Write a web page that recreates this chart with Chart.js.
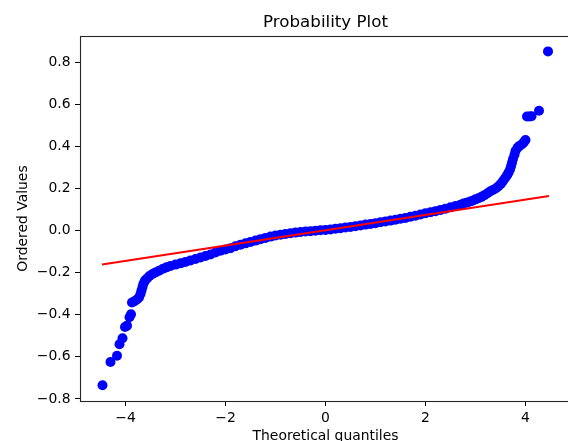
<!DOCTYPE html>
<html>
<head>
<meta charset="utf-8">
<script src="https://cdn.jsdelivr.net/npm/chart.js@4.4.1/dist/chart.umd.min.js"></script>
<style>
  html, body { margin: 0; padding: 0; background: #fff; overflow: hidden; }
  #wrap { width: 580px; height: 460px; }
</style>
</head>
<body>
<div id="wrap"><canvas id="c" width="580" height="460"></canvas></div>
<script>
// Theoretical quantiles (x) and ordered values (y)
const qqX = [
  -4.46, -4.30, -4.17, -4.12, -4.06, -4.01, -3.97, -3.92, -3.89, -3.87, -3.82, -3.77, -3.73, -3.70,
  -3.68, -3.66, -3.64, -3.61, -3.57, -3.52, -3.46, -3.40, -3.33, -3.25, -3.18, -3.10, -3.00,
  -2.9, -2.8, -2.7, -2.6, -2.5, -2.4, -2.3, -2.2, -2.1, -2.0, -1.9, -1.8, -1.7, -1.6, -1.5, -1.4,
  -1.3, -1.2, -1.1, -1.0, -0.9, -0.8, -0.7, -0.6, -0.5, -0.4, -0.3, -0.2, -0.1, 0.0, 0.1, 0.2,
  0.3, 0.4, 0.5, 0.6, 0.7, 0.8, 0.9, 1.0, 1.1, 1.2, 1.3, 1.4, 1.5, 1.6, 1.7, 1.8, 1.9, 2.0,
  2.1, 2.2, 2.3, 2.4, 2.5, 2.6, 2.7,
  2.76, 2.82, 2.88, 2.94, 3.00, 3.06, 3.12, 3.18, 3.24, 3.29, 3.35, 3.41, 3.46, 3.51, 3.55,
  3.59, 3.63, 3.66, 3.69, 3.71, 3.73, 3.75, 3.78, 3.80, 3.84, 3.88, 3.93, 3.97, 4.00,
  4.03, 4.08, 4.12, 4.27, 4.45
];
const qqY = [
  -0.735, -0.625, -0.595, -0.540, -0.512, -0.458, -0.452, -0.412, -0.398, -0.342, -0.336, -0.328, -0.318, -0.302,
  -0.285, -0.268, -0.252, -0.238, -0.228, -0.216, -0.207, -0.199, -0.191, -0.182, -0.175, -0.168, -0.162,
  -0.156, -0.149, -0.142, -0.135, -0.128, -0.121, -0.114, -0.104, -0.096, -0.090, -0.084, -0.075, -0.068, -0.061, -0.054, -0.048,
  -0.041, -0.035, -0.029, -0.024, -0.020, -0.016, -0.013, -0.010, -0.007, -0.005, -0.003, -0.001, 0.001, 0.003, 0.005, 0.008,
  0.011, 0.014, 0.017, 0.020, 0.024, 0.028, 0.031, 0.035, 0.039, 0.043, 0.047, 0.051, 0.056, 0.060, 0.065, 0.070, 0.076, 0.082,
  0.087, 0.092, 0.098, 0.104, 0.110, 0.116, 0.123,
  0.128, 0.132, 0.137, 0.142, 0.148, 0.153, 0.160, 0.168, 0.177, 0.185, 0.193, 0.201, 0.210, 0.222, 0.235,
  0.248, 0.262, 0.275, 0.290, 0.305, 0.322, 0.340, 0.360, 0.378, 0.393, 0.402, 0.410, 0.420, 0.430,
  0.542, 0.542, 0.543, 0.569, 0.851
];
// Least-squares fit line end points
const fitX = [-4.47, 4.47];
const fitY = [-0.161, 0.164];
// Tick labels
const xTicks = [-4, -2, 0, 2, 4];
const yTicks = [-0.8, -0.6, -0.4, -0.2, 0.0, 0.2, 0.4, 0.6, 0.8];

const FONT = "'DejaVu Sans', sans-serif";
const minus = s => s.replace('-', '\u2212');

const frame = {
  id: 'frame',
  afterDatasetsDraw(chart) {
    const a = chart.chartArea, ctx = chart.ctx;
    ctx.save();
    ctx.strokeStyle = '#262626';
    ctx.lineWidth = 1.1;
    ctx.strokeRect(Math.round(a.left) + 0.5, Math.round(a.top) + 0.5,
                   Math.round(a.right - a.left), Math.round(a.bottom - a.top));
    ctx.restore();
  }
};

new Chart(document.getElementById('c'), {
  type: 'scatter',
  data: {
    datasets: [
      {
        label: 'fit',
        type: 'line',
        data: fitX.map((x, i) => ({ x, y: fitY[i] })),
        borderColor: '#ff0000',
        borderWidth: 2,
        pointRadius: 0,
        fill: false,
        order: 0
      },
      {
        label: 'data',
        data: qqX.map((x, i) => ({ x, y: qqY[i] })),
        backgroundColor: '#0000ff',
        borderColor: '#0000ff',
        borderWidth: 0,
        pointRadius: 5,
        order: 1
      }
    ]
  },
  options: {
    responsive: false,
    animation: false,
    events: [],
    layout: { padding: { left: 0, right: 9, top: 0, bottom: 0 } },
    plugins: {
      legend: { display: false },
      tooltip: { enabled: false },
      title: {
        display: true,
        text: 'Probability Plot',
        fullSize: false,
        color: '#000',
        font: { family: FONT, size: 16.7, weight: 'normal', lineHeight: 1.2 },
        padding: { top: 13, bottom: 3 }
      }
    },
    scales: {
      x: {
        type: 'linear',
        min: -4.91,
        max: 4.91,
        afterBuildTicks: s => { s.ticks = xTicks.map(v => ({ value: v })); },
        afterFit: s => { s.height = 59; },
        grid: { display: true, drawOnChartArea: false, drawTicks: true, tickLength: 5, tickColor: '#000', tickWidth: 1 },
        border: { display: false },
        ticks: {
          color: '#000',
          padding: 4,
          font: { family: FONT, size: 13.9 },
          callback: v => minus(String(v))
        },
        title: {
          display: true,
          text: 'Theoretical quantiles',
          color: '#000',
          font: { family: FONT, size: 13.9 },
          padding: { top: 0, bottom: 15.7 }
        }
      },
      y: {
        type: 'linear',
        min: -0.81,
        max: 0.924,
        afterBuildTicks: s => { s.ticks = yTicks.map(v => ({ value: v })); },
        afterFit: s => { s.width = 80; },
        grid: { display: true, drawOnChartArea: false, drawTicks: true, tickLength: 5, tickColor: '#000', tickWidth: 1 },
        border: { display: false },
        ticks: {
          color: '#000',
          padding: 4.5,
          font: { family: FONT, size: 13.9 },
          callback: v => minus(Number(v).toFixed(1)).replace('\u22120.0', '0.0')
        },
        title: {
          display: true,
          text: 'Ordered Values',
          color: '#000',
          font: { family: FONT, size: 13.9 },
          padding: { top: 14.7, bottom: 0 }
        }
      }
    }
  },
  plugins: [frame]
});
</script>
</body>
</html>
